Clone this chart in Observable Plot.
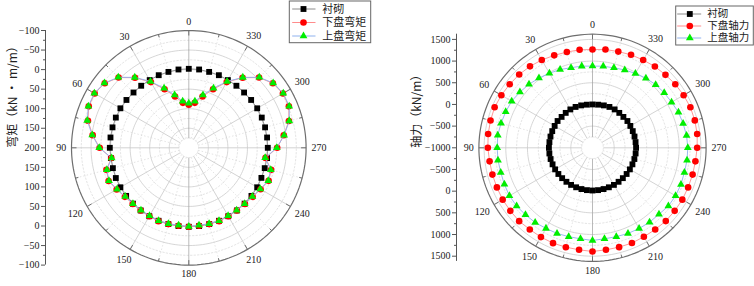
<!DOCTYPE html>
<html><head><meta charset="utf-8">
<script src="https://cdn.jsdelivr.net/npm/d3@7"></script>
<script src="https://cdn.jsdelivr.net/npm/@observablehq/plot@0.6"></script>
<style>
body{margin:0;background:#fff;}
#wrap{display:flex;width:754px;height:286px;overflow:hidden;}
#wrap svg{overflow:visible;}
</style></head><body><div id="wrap"></div>
<script>
// ---- data ----
const angles = [0,7.5,15,22.5,30,37.5,45,52.5,60,67.5,75,82.5,90,97.5,105,112.5,120,127.5,135,142.5,150,157.5,165,172.5,180,187.5,195,202.5,210,217.5,225,232.5,240,247.5,255,262.5,270,277.5,285,292.5,300,307.5,315,322.5,330,337.5,345,352.5];

const namesM = ["衬砌", "下盘弯矩", "上盘弯矩"];
const liningM = [-2,-2,-1,-1,0,0,0,-1,-2,-2,-2,-2,-2, -1,-1,-2,-2,-2,-2,-2,-2,-2,-2,-2,-2, -2,-2,-2,-2,-2,-2,-2,-2,-1,-1,-2,-2, -2,-2,-2,-2,-1,0,0,0,-1,-1,-2];
const footwallM = [90,84,64,38,6,-26,-54,-71,-78,-77,-67,-48,-28, 0,-18,-22,-13,-6,-3,-2,-2,-3,-2,-1,-2, -1,-2,-3,-2,-2,-3,-6,-12,-21,-18,2,-26, -45,-65,-77,-78,-71,-54,-26,6,38,64,84];
const hangingwallM = [86,80,60,35,4,-27,-55,-72,-79,-78,-69,-49,-29, 1,-17,-21,-12,-5,-2,-1,-1,-2,-1,0,-1, 0,-1,-2,-1,-1,-2,-5,-11,-20,-17,3,-25, -46,-66,-78,-79,-72,-55,-27,4,35,60,80];

const namesN = ["衬砌", "下盘轴力", "上盘轴力"];
const liningN = [0,3,12,20,22,15,8,15,8,5,3,2,5, 3,0,-3,-5,-8,-10,-12,-12,-14,-15,-15,-15, -15,-15,-14,-12,-12,-10,-8,-5,-3,0,3,5, 2,3,5,8,15,8,15,22,20,12,3];
const footwallN = [1267,1280,1286,1308,1339,1368,1391,1407,1427,1443,1435,1427,1414, 1394,1390,1387,1392,1389,1392,1375,1378,1380,1373,1373,1391, 1373,1372,1377,1370,1375,1390,1389,1392,1387,1390,1394,1414, 1435,1443,1443,1427,1407,1380,1363,1338,1322,1297,1288];
const hangingwallN = [884,900,913,953,987,1028,1071,1110,1152,1167,1184,1204,1198, 1199,1191,1200,1213,1206,1186,1172,1146,1138,1122,1117,1137, 1117,1122,1138,1150,1162,1168,1206,1213,1208,1194,1199,1198, 1188,1163,1146,1105,1085,1060,1023,979,944,909,898];

const angleTicks = [0,30,60,90,120,150,180,210,240,270,300,330];
const angleMinor = [15,45,75,105,135,165,195,225,255,285,315,345];
const radialMajorM = [200,150,100,50,0,-50,-100];
const radialMinorM = [175,125,75,25,-25,-75];
const radialMajorN = [-1000,-500,0,500,1000,1500];
const radialMinorN = [-750,-250,250,750,1250];

const titleM = "弯矩（kN • m/m）";
const titleN = "轴力（kN/m）";

// ---- styles ----
const seriesStyle = [
  {symbol: "square", fill: "#000000", line: "#8c8c8c", r: 3.3},
  {symbol: "circle", fill: "#ff0000", line: "#ff8c8c", r: 3.3},
  {symbol: "triangle", fill: "#00ee00", line: "#8fb2ee", r: 2.9}
];

function polar(cfg) {
  const {width, height, cx, cy, R, axisX, titleX, inner, outer, major, minor,
         ringsMajor, ringsMinor, values, names, title, leg} = cfg;
  const frac = v => (v - inner) / (outer - inner);
  const toXY = (a, r) => [-r * Math.sin(a * Math.PI / 180), r * Math.cos(a * Math.PI / 180)];
  const ux = p => (p - cx) / R, uy = p => (cy - p) / R;
  const circ = (r, k) => d3.range(0, 361, 2).map(a => { const [x, y] = toXY(a, r); return {x, y, k}; });
  const ringMaj = ringsMajor.flatMap((v, i) => circ(frac(v), i));
  const ringMin = ringsMinor.flatMap((v, i) => circ(frac(v), i));
  const outerRing = circ(1, 0);
  const r0 = frac(ringsMinor[0]);
  const spoke = a => { const [x1, y1] = toXY(a, r0); const [x2, y2] = toXY(a, 1); return {x1, y1, x2, y2, a}; };
  const tick = (a, len) => { const [x1, y1] = toXY(a, 1); const [x2, y2] = toXY(a, 1 - len / R); return {x1, y1, x2, y2}; };

  const majU = Array.from(new Set(major.flatMap(v => [frac(v), -frac(v)])));
  const minU = minor.flatMap(v => [frac(v), -frac(v)]);
  const fmt = v => (v < 0 ? "\u2212" + Math.abs(v) : String(v));
  const labelOf = u => fmt(Math.round(inner + Math.abs(u) * (outer - inner)));

  const off = a => 5 + Math.abs(Math.sin(a * Math.PI / 180)) * String(a).length * 2.6 + Math.abs(Math.cos(a * Math.PI / 180)) * 4;

  const seriesMarks = values.flatMap((vals, s) => {
    const pts = angles.map((a, i) => { const [x, y] = toXY(a, frac(vals[i])); return {x, y}; });
    const st = seriesStyle[s];
    return [
      Plot.line(pts.concat([pts[0]]), {x: "x", y: "y", stroke: st.line, strokeWidth: 0.9}),
      Plot.dot(pts, {x: "x", y: "y", symbol: () => st.symbol, fill: st.fill, stroke: "none", r: st.r})
    ];
  });

  const legRows = names.map((n, i) => ({n, i}));
  const legendMarks = [
    Plot.rect([0], {x1: () => ux(leg.box[0]), x2: () => ux(leg.box[2]), y1: () => uy(leg.box[1]), y2: () => uy(leg.box[3]), fill: "white", stroke: "#666", strokeWidth: 1}),
    Plot.link(legRows, {x1: () => ux(leg.line[0]), x2: () => ux(leg.line[1]), y1: d => uy(leg.rows[d.i]), y2: d => uy(leg.rows[d.i]), stroke: d => seriesStyle[d.i].line, strokeWidth: 1}),
    ...legRows.map(d => Plot.dot([d], {x: () => ux(leg.mark), y: () => uy(leg.rows[d.i]), symbol: () => seriesStyle[d.i].symbol, fill: seriesStyle[d.i].fill, stroke: "none", r: seriesStyle[d.i].r})),
    Plot.text(legRows, {x: () => ux(leg.text), y: d => uy(leg.rows[d.i]), text: "n", textAnchor: "start", lineHeight: 1, fontFamily: "'Noto Sans CJK SC'", fontSize: leg.font, fill: "#222"})
  ];

  return Plot.plot({
    width, height,
    marginLeft: axisX, marginTop: cy - R, marginBottom: height - (cy + R), marginRight: 0,
    x: {domain: [-1, 1], range: [cx - R, cx + R], axis: null},
    y: {domain: [-1, 1], axis: null},
    style: {fontFamily: "'Liberation Serif', serif", fontSize: "10px", color: "#222", background: "white"},
    marks: [
      // grid
      Plot.line(ringMin, {x: "x", y: "y", z: "k", stroke: "#d9d9d9", strokeWidth: 0.7, strokeDasharray: "1.5,2"}),
      Plot.line(ringMaj, {x: "x", y: "y", z: "k", stroke: "#cccccc", strokeWidth: 0.8}),
      Plot.link(angleMinor.map(spoke), {x1: "x1", y1: "y1", x2: "x2", y2: "y2", stroke: "#d9d9d9", strokeWidth: 0.7, strokeDasharray: "1.5,2"}),
      Plot.link(angleTicks.map(spoke), {x1: "x1", y1: "y1", x2: "x2", y2: "y2", stroke: d => (d.a % 180 === 0 ? "#a8a8a8" : "#c8c8c8"), strokeWidth: 0.8}),
      Plot.line(outerRing, {x: "x", y: "y", stroke: "#6e6e6e", strokeWidth: 1.2}),
      Plot.link(angleTicks.map(a => tick(a, 5)), {x1: "x1", y1: "y1", x2: "x2", y2: "y2", stroke: "#6e6e6e", strokeWidth: 1}),
      Plot.link(angleMinor.map(a => tick(a, 3)), {x1: "x1", y1: "y1", x2: "x2", y2: "y2", stroke: "#6e6e6e", strokeWidth: 1}),
      // angle labels
      Plot.text(angleTicks, {x: a => toXY(a, 1 + off(a) / R)[0], y: a => toXY(a, 1 + off(a) / R)[1], text: a => String(a), fill: "#222"}),
      // radial axis
      Plot.ruleX([ux(axisX)], {y1: -1, y2: 1, stroke: "#555", strokeWidth: 1}),
      Plot.axisY(majU, {anchor: "left", tickSize: 4, tickPadding: 2, tickFormat: labelOf, stroke: "#555"}),
      Plot.axisY(minU, {anchor: "left", tickSize: 2, tickFormat: () => "", stroke: "#555"}),
      Plot.text([title], {frameAnchor: "left", dx: -(axisX - titleX), rotate: -90, fontFamily: "'Noto Sans CJK SC'", fontSize: 12, fill: "#222"}),
      // data
      ...seriesMarks,
      // legend
      ...legendMarks
    ]
  });
}

const wrap = document.getElementById("wrap");
wrap.append(polar({
  width: 380, height: 286, cx: 188.3, cy: 147.3, R: 117.3, axisX: 45, titleX: 13,
  inner: 200, outer: -100, major: radialMajorM, minor: radialMinorM,
  ringsMajor: [150, 100, 50, 0, -50], ringsMinor: radialMinorM,
  values: [liningM, footwallM, hangingwallM], names: namesM, title: titleM,
  leg: {box: [289.3, 1, 370.7, 42.7], rows: [8.5, 22, 35.5], line: [291.7, 315], mark: 303, text: 321.7, font: 11}
}));
wrap.append(polar({
  width: 374, height: 286, cx: 212, cy: 147.3, R: 113.6, axisX: 76, titleX: 36.7,
  inner: -1000, outer: 1620, major: radialMajorN, minor: radialMinorN,
  ringsMajor: [-500, 0, 500, 1000, 1500], ringsMinor: radialMinorN,
  values: [liningN, footwallN, hangingwallN], names: namesN, title: titleN,
  leg: {box: [295.7, 6, 373.3, 45], rows: [13.5, 25.5, 37.5], line: [296.7, 320.7], mark: 309.3, text: 326.7, font: 10.5}
}));
</script></body></html>
